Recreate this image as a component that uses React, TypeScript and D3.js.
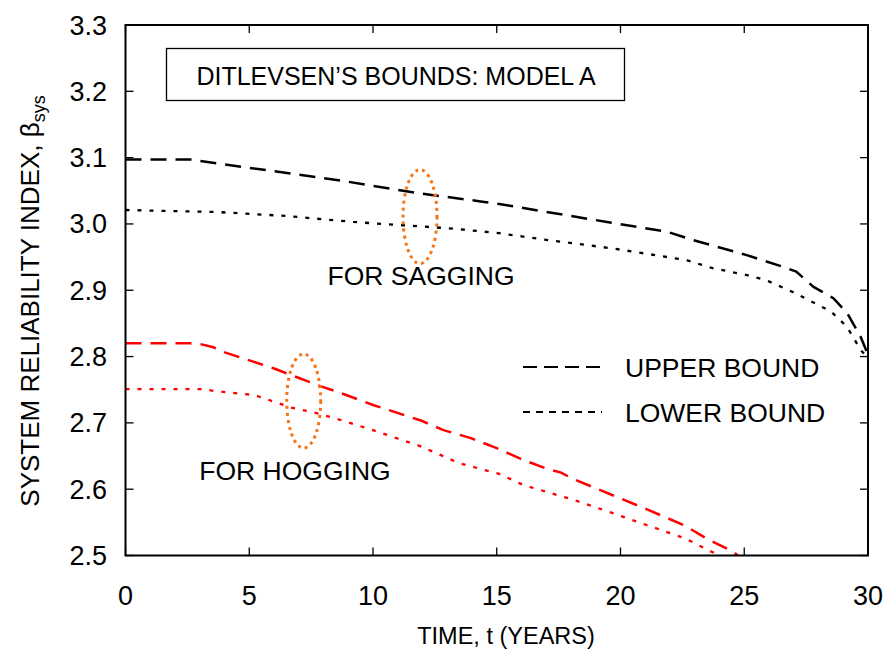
import React from "react";
import * as d3 from "d3";

const sagUpperT = [0, 2.7, 3.0, 8.6, 11.9, 14.35, 15.1, 19.45, 21.9, 22.9, 25.1, 26.6, 27.1, 27.8, 28.6, 29.15, 29.7, 30];
const sagUpperB = [3.097, 3.097, 3.095, 3.066, 3.046, 3.034, 3.03, 3.003, 2.988, 2.976, 2.953, 2.935, 2.928, 2.905, 2.888, 2.866, 2.83, 2.803];
const sagLowerT = [0, 3.7, 6.5, 9.2, 11.2, 13.25, 15.1, 17.0, 19.7, 21.9, 22.7, 23.75, 25.1, 25.9, 27.1, 28.5, 29.15, 29.7, 30];
const sagLowerB = [3.021, 3.018, 3.012, 3.003, 2.998, 2.993, 2.986, 2.976, 2.963, 2.95, 2.945, 2.933, 2.923, 2.915, 2.895, 2.868, 2.845, 2.81, 2.798];
const hogUpperT = [0, 2.6, 3.0, 3.55, 3.95, 5.6, 6.0, 7.9, 8.55, 10.0, 11.9, 12.85, 13.95, 15.0, 15.95, 17.0, 17.6, 18.05, 20.0, 20.85, 22.55, 23.6, 24.55, 24.8];
const hogUpperB = [2.82, 2.82, 2.819, 2.814, 2.807, 2.787, 2.782, 2.755, 2.747, 2.727, 2.704, 2.689, 2.677, 2.662, 2.646, 2.631, 2.625, 2.616, 2.586, 2.573, 2.546, 2.523, 2.506, 2.498];
const hogLowerT = [0, 3.15, 3.6, 5.2, 5.6, 6.7, 7.6, 8.55, 10.0, 11.9, 13.5, 15.1, 16.1, 18.1, 19.6, 21.05, 22.6, 23.6, 24.2];
const hogLowerB = [2.751, 2.751, 2.748, 2.742, 2.737, 2.723, 2.716, 2.706, 2.689, 2.665, 2.639, 2.623, 2.606, 2.584, 2.565, 2.546, 2.526, 2.507, 2.497];

const xTicks = [0, 5, 10, 15, 20, 25, 30];
const yTicks = [2.5, 2.6, 2.7, 2.8, 2.9, 3.0, 3.1, 3.2, 3.3];
const legendLabels = ["UPPER BOUND", "LOWER BOUND"];
const titleText = "DITLEVSEN\u2019S BOUNDS: MODEL A";
const xTitle = "TIME, t (YEARS)";
const yTitle = "SYSTEM RELIABILITY INDEX, \u03B2";
const annotations = ["FOR SAGGING", "FOR HOGGING"];
// ellipse centres in data coords
const ellipseT = [11.9, 7.2];
const ellipseB = [3.011, 2.733];

const L = 125.5, R = 868, T = 25, B = 555.5;
const FONT = "'Liberation Sans', Arial, sans-serif";

export default function App() {
  const x = d3.scaleLinear().domain([0, 30]).range([L, R]);
  const y = d3.scaleLinear().domain([2.5, 3.3]).range([B, T]);
  const line = d3.line<[number, number]>().x((d) => x(d[0])).y((d) => y(d[1]));
  const zip = (a: number[], b: number[]) => a.map((v, i) => [v, b[i]] as [number, number]);

  const series = [
    { d: zip(sagUpperT, sagUpperB), color: "#000", dash: "16,9", w: 2.5 },
    { d: zip(sagLowerT, sagLowerB), color: "#000", dash: "4,8", w: 2.3 },
    { d: zip(hogUpperT, hogUpperB), color: "#ff0000", dash: "16,9", w: 2.5 },
    { d: zip(hogLowerT, hogLowerB), color: "#ff0000", dash: "4,8", w: 2.3 },
  ];
  const dashes = ["14,7", "7,6"];

  return (
    <svg width={890} height={666} style={{ position: "absolute", left: 0, top: 0, background: "#fff" }} fontFamily={FONT}>
      <defs>
        <clipPath id="plotclip">
          <rect x={L} y={T} width={R - L} height={B - T} />
        </clipPath>
      </defs>
      <rect x={0} y={0} width={890} height={666} fill="#fff" />
      {/* series */}
      <g clipPath="url(#plotclip)">
        {series.map((s, i) => (
          <path key={i} d={line(s.d) || ""} fill="none" stroke={s.color} strokeWidth={s.w} strokeDasharray={s.dash} />
        ))}
      </g>
      {/* ellipses */}
      {ellipseT.map((t, i) => (
        <ellipse key={i} cx={x(t)} cy={y(ellipseB[i])} rx={17} ry={47} fill="none" stroke="#f87216" strokeWidth={3} strokeDasharray="3,4" />
      ))}
      {/* frame */}
      <rect x={L} y={T} width={R - L} height={B - T} fill="none" stroke="#000" strokeWidth={2} />
      {xTicks.map((t) => (
        <g key={"x" + t}>
          <line x1={x(t)} x2={x(t)} y1={B} y2={B - 8} stroke="#000" strokeWidth={1.3} />
          <line x1={x(t)} x2={x(t)} y1={T} y2={T + 8} stroke="#000" strokeWidth={1.3} />
          <text x={x(t)} y={605} textAnchor="middle" fontSize={27}>{t}</text>
        </g>
      ))}
      {yTicks.map((v) => (
        <g key={"y" + v}>
          <line x1={L} x2={L + 8} y1={y(v)} y2={y(v)} stroke="#000" strokeWidth={1.3} />
          <line x1={R} x2={R - 8} y1={y(v)} y2={y(v)} stroke="#000" strokeWidth={1.3} />
          <text x={107} y={y(v) + 9.5} textAnchor="end" fontSize={27}>{v.toFixed(1)}</text>
        </g>
      ))}
      {/* axis titles */}
      <text x={506} y={644} textAnchor="middle" fontSize={23.5}>{xTitle}</text>
      <text transform={`translate(39,301) rotate(-90)`} textAnchor="middle" fontSize={26}>
        {yTitle}
        <tspan fontSize={18} dy={6}>sys</tspan>
      </text>
      {/* title box */}
      <rect x={166.5} y={48.5} width={458} height={52} fill="#fff" stroke="#000" strokeWidth={1.3} />
      <text x={396} y={84.5} textAnchor="middle" fontSize={25}>{titleText}</text>
      {/* annotations */}
      <text x={421} y={285} textAnchor="middle" fontSize={26.5}>{annotations[0]}</text>
      <text x={295} y={480} textAnchor="middle" fontSize={26.5}>{annotations[1]}</text>
      {/* legend */}
      {legendLabels.map((lab, i) => (
        <g key={lab}>
          <line x1={523} x2={602} y1={367 + i * 45} y2={367 + i * 45} stroke="#000" strokeWidth={2} strokeDasharray={dashes[i]} />
          <text x={625} y={377 + i * 45} fontSize={26.5}>{lab}</text>
        </g>
      ))}
    </svg>
  );
}
